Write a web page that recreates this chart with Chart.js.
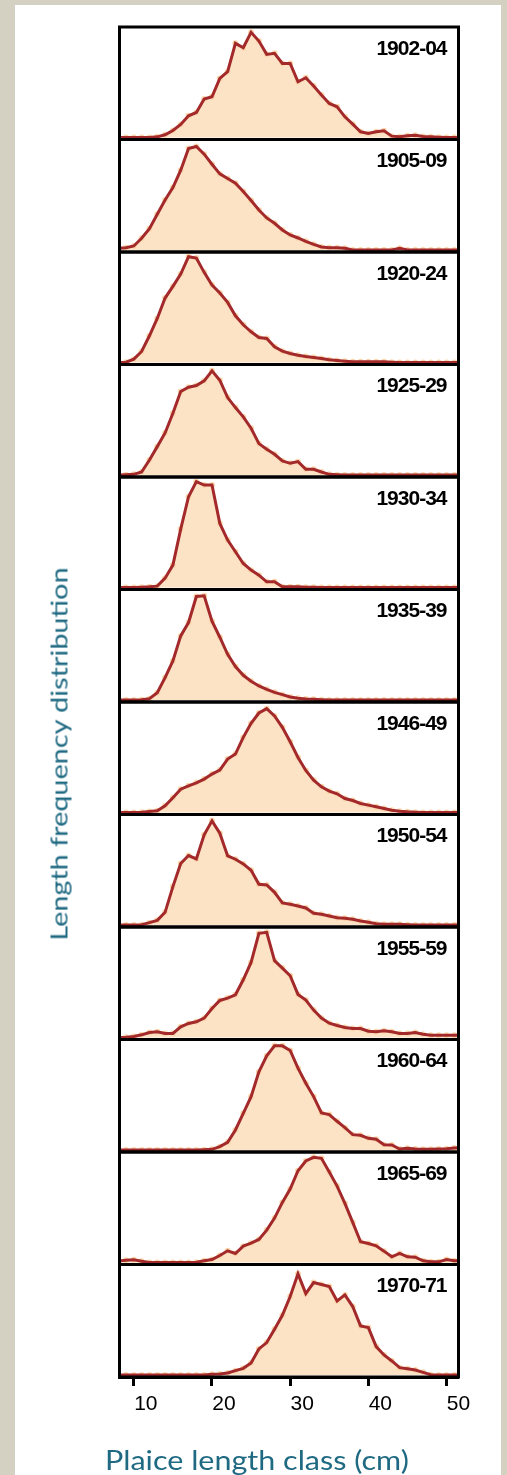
<!DOCTYPE html>
<html><head><meta charset="utf-8">
<script src="https://cdn.jsdelivr.net/npm/chart.js@4.4.1/dist/chart.umd.min.js"></script>
<style>
html,body{margin:0;padding:0;width:507px;height:1475px;overflow:hidden;background:#d4d1c2;}
#card{position:absolute;left:15px;top:5px;width:486px;height:1480px;background:#fff;}
#wrap{position:absolute;left:0;top:0;width:507px;height:1475px;}
#ytitle{position:absolute;left:58px;top:754px;transform:translate(-50%,-50%) rotate(-90deg) scaleX(1.2);white-space:nowrap;font-family:Lato,sans-serif;font-size:24px;color:#1f6a82;}
#xtitle{position:absolute;left:105px;top:1443px;transform-origin:0 50%;transform:scaleX(1.13);white-space:nowrap;font-family:Lato,sans-serif;font-size:27px;color:#1f6a82;}
</style></head><body>
<div id="card"></div>
<div id="wrap"><canvas id="c" width="507" height="1475"></canvas></div>
<div id="ytitle">Length frequency distribution</div>
<div id="xtitle">Plaice length class (cm)</div>
<script>
// Length classes (cm)
const lengths = [8,9,10,11,12,13,14,15,16,17,18,19,20,21,22,23,24,25,26,27,28,29,30,31,32,33,34,35,36,37,38,39,40,41,42,43,44,45,46,47,48,49,50,51,52];
const xTickValues = [10,20,30,40,50];
const periods = ["1902-04","1905-09","1920-24","1925-29","1930-34","1935-39","1946-49","1950-54","1955-59","1960-64","1965-69","1970-71"];
// Relative frequencies (arbitrary units, per panel)
const f1902 = [0,0,0,0,0,2,8,21,39,65,75,115,122,177,197,282,269,315,289,249,252,222,222,167,179,154,127,102,92,62,40,17,12,17,20,4,2,5,7,3,2,1,0,0,0];
const f1905 = [5,7,12,35,64,107,150,187,239,304,310,287,257,228,214,200,175,148,120,96,80,60,45,36,26,17,9,7,7,5,0,0,0,0,0,0,5,0,0,0,0,0,0,0,0];
const f1920 = [0,1,10,33,80,132,193,228,265,317,313,270,232,208,180,140,113,92,75,72,47,34,27,22,18,15,12,8,6,4,2,2,2,2,2,1,0,0,0,0,0,0,0,0,0];
const f1925 = [0,1,2,9,45,85,126,185,250,263,268,282,312,284,232,202,174,140,94,77,62,42,35,40,17,17,9,2,1,0,0,0,0,0,0,0,0,0,0,0,0,0,0,0,0];
const f1930 = [0,0,0,1,2,4,28,67,175,272,317,307,307,192,142,107,72,52,37,17,17,2,2,2,1,1,0,0,0,0,0,0,0,0,0,0,0,0,0,0,0,0,0,0,0];
const f1935 = [0,0,0,1,4,22,67,117,192,232,310,312,236,188,137,100,74,56,42,32,23,16,9,5,3,2,1,0,0,0,0,0,0,0,0,0,0,0,0,0,0,0,0,0,0];
const f1946 = [0,0,0,1,3,5,20,44,70,80,89,100,115,127,160,175,225,267,298,311,289,255,212,165,126,97,77,64,56,42,36,27,22,17,12,7,4,2,1,0,0,0,0,0,0];
const f1950 = [0,0,0,1,7,14,38,115,184,208,198,270,312,275,207,197,183,164,122,120,98,66,62,57,51,35,32,27,22,20,17,12,8,4,2,2,2,1,0,0,0,0,0,0,0];
const f1955 = [0,1,3,8,15,17,12,12,32,42,47,58,87,111,118,128,173,225,312,315,230,208,185,129,112,82,58,43,36,30,27,27,19,17,20,17,12,12,15,10,7,7,7,7,7];
const f1960 = [0,0,0,0,0,0,0,0,0,0,0,1,2,10,23,60,110,160,234,282,312,312,298,245,200,160,111,106,86,67,46,44,35,32,16,15,3,5,3,2,2,3,4,6,7];
const f1965 = [4,7,8,4,0,0,0,0,0,0,1,5,9,21,35,27,49,58,69,97,133,180,220,275,304,315,312,271,229,177,120,62,57,50,34,17,27,17,16,5,2,2,9,5,5];
const f1970 = [0,0,0,0,0,0,0,0,0,0,0,0,2,3,6,13,20,36,78,97,137,179,235,303,244,277,271,265,222,240,205,147,142,85,60,42,22,19,15,8,1,0,0,0,0];
const series = [f1902,f1905,f1920,f1925,f1930,f1935,f1946,f1950,f1955,f1960,f1965,f1970];

const datasets = [];
const scales = {
  x: {
    type: 'linear', position: 'bottom', min: 8.17, max: 51.53,
    afterBuildTicks: s => { s.ticks = xTickValues.map(v => ({value: v})); },
    afterFit: s => { s.height = 40; },
    grid: {drawOnChartArea: false, drawTicks: true, tickLength: 9, tickWidth: 3, tickColor: '#000'},
    border: {display: true, color: '#000', width: 3},
    ticks: {color: '#000', font: {family: '"Liberation Sans", Arial, sans-serif', size: 21}, labelOffset: 12, padding: 6, maxRotation: 0, autoSkip: false}
  }
};
// stacked panels: define in reverse so the first period ends up at the top
for (let i = series.length - 1; i >= 0; i--) {
  scales['y' + i] = {
    type: 'linear', position: 'left', stack: 'panels', stackWeight: 1,
    min: -6, max: 331, display: true,
    afterFit: s => { s.width = 0; },
    ticks: {display: false}, grid: {display: false}, border: {display: false}
  };
}
series.forEach((vals, i) => {
  const id = 'y' + i;
  const pts = lengths.map((x, j) => ({x: x, y: vals[j]}));
  datasets.push({
    data: pts, xAxisID: 'x', yAxisID: id, order: 1,
    borderColor: '#a3292a', borderWidth: 3, pointRadius: 0, fill: false, tension: 0
  });
  datasets.push({
    data: pts, xAxisID: 'x', yAxisID: id, order: 2,
    borderColor: 'rgba(0,0,0,0)', borderWidth: 1, backgroundColor: '#fde3c6', fill: 'origin',
    pointRadius: 3, pointBackgroundColor: '#fbd7ae', pointBorderWidth: 0, tension: 0
  });
});

const panelPlugin = {
  id: 'panels',
  afterDatasetsDraw(chart) {
    const ctx = chart.ctx, ca = chart.chartArea;
    ctx.save();
    periods.forEach((p, i) => {
      const s = chart.scales['y' + i];
      ctx.strokeStyle = '#000'; ctx.lineWidth = 3;
      ctx.strokeRect(ca.left, s.top, ca.right - ca.left, s.bottom - s.top);
      ctx.fillStyle = '#000';
      ctx.font = 'bold 21px "Liberation Sans", Arial, sans-serif';
      if ('letterSpacing' in ctx) ctx.letterSpacing = '-1px';
      ctx.textAlign = 'right'; ctx.textBaseline = 'middle';
      ctx.fillText(p, ca.right - 12, s.top + 22);
    });
    ctx.restore();
  }
};

new Chart(document.getElementById('c'), {
  type: 'line',
  data: {datasets},
  options: {
    responsive: false, animation: false,
    layout: {padding: {left: 119.5, right: 48.5, top: 27, bottom: 58}},
    plugins: {legend: {display: false}, tooltip: {enabled: false}},
    scales
  },
  plugins: [panelPlugin]
});
</script>
</body></html>
